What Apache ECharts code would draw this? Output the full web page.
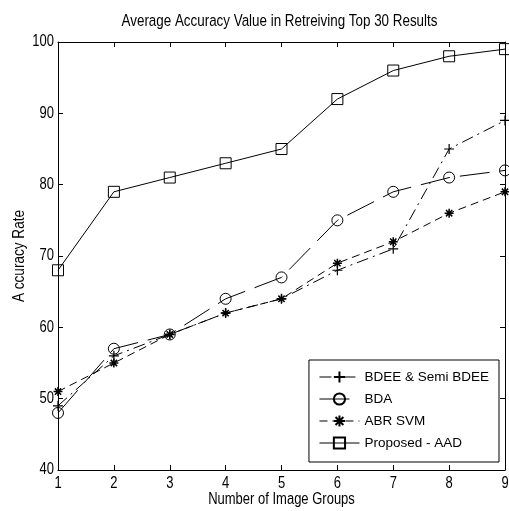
<!DOCTYPE html>
<html><head><meta charset="utf-8">
<script src="https://cdn.jsdelivr.net/npm/echarts@6/dist/echarts.min.js"></script>
<style>html,body{margin:0;padding:0;background:#fff}#c{width:509px;height:511px}</style>
</head><body><div id="c"></div>
<script>
const groups = [1,2,3,4,5,6,7,8,9];
const bdee = [49,56,59,62,64,68,71,85,89];
const bda = [48,57,59,64,67,75,79,81,82];
const abrSvm = [51,55,59,62,64,69,72,76,79];
const aad = [68,79,81,83,85,92,96,98,99];
const yTicks = [40,50,60,70,80,90,100];
const xTicks = [1,2,3,4,5,6,7,8,9];

const FONT = '"Liberation Sans",Arial,sans-serif';
const SY = 1.2;
const plus = 'path://M5,0L5,10M0,5L10,5';
const star = 'path://M5,0L5,10M0,5L10,5M1.5,1.5L8.5,8.5M8.5,1.5L1.5,8.5';
function pts(arr){ return groups.map((g,i)=>[g,arr[i]]); }
const chart = echarts.init(document.getElementById('c'));
const axisCommon = {
  axisLine:{show:true,onZero:false,lineStyle:{color:'#000',width:1}},
  axisTick:{show:true,inside:true,length:5,lineStyle:{color:'#000'}},
  axisLabel:{show:false},
  splitLine:{show:false}
};
chart.setOption({
  animation:false,
  backgroundColor:'#fff',
  grid:{left:58,right:4,top:42,bottom:41},
  legend:{
    orient:'vertical',right:10,top:360,itemWidth:40,itemHeight:14,itemGap:8,
    backgroundColor:'#fff',borderColor:'#000',borderWidth:1,padding:[10,10,12,10],
    textStyle:{fontFamily:FONT,fontSize:13.5,color:'#000'},
    lineStyle:{width:1},
    data:['BDEE & Semi BDEE','BDA','ABR SVM','Proposed - AAD']
  },
  xAxis:[
    Object.assign({type:'value',min:1,max:9,interval:1,position:'bottom'},axisCommon),
    Object.assign({type:'value',min:1,max:9,interval:1,position:'top'},axisCommon)
  ],
  yAxis:[
    Object.assign({type:'value',min:yTicks[0],max:yTicks[yTicks.length-1],interval:10,position:'left'},axisCommon),
    Object.assign({type:'value',min:40,max:100,interval:10,position:'right'},axisCommon)
  ],
  series:[
    {name:'BDEE & Semi BDEE',type:'line',data:pts(bdee),symbol:plus,symbolSize:10,
      lineStyle:{color:'#000',width:1,type:[12,5,2,5]},
      itemStyle:{color:'transparent',borderColor:'#000',borderWidth:1.2},z:3},
    {name:'BDA',type:'line',data:pts(bda),symbol:'circle',symbolSize:11,
      lineStyle:{color:'#000',width:1,type:[30,10]},
      itemStyle:{color:'transparent',borderColor:'#000',borderWidth:1},z:3},
    {name:'ABR SVM',type:'line',data:pts(abrSvm),symbol:star,symbolSize:9,
      lineStyle:{color:'#000',width:1,type:[8,5]},
      itemStyle:{color:'transparent',borderColor:'#000',borderWidth:1.5},z:3},
    {name:'Proposed - AAD',type:'line',data:pts(aad),symbol:'rect',symbolSize:11,
      lineStyle:{color:'#000',width:1,type:'solid'},
      itemStyle:{color:'transparent',borderColor:'#000',borderWidth:1},z:3}
  ]
});

function txt(text,x,y,opts){
  return Object.assign({type:'text',x:x,y:y,scaleY:SY,silent:true,
    style:{text:text,fontFamily:FONT,fontSize:13,fill:'#000',align:'center',verticalAlign:'middle'}},opts||{});
}
const g = [];
const x0 = chart.convertToPixel({xAxisIndex:0},1);
const x1 = chart.convertToPixel({xAxisIndex:0},9);
const cx = (x0+x1)/2;
const yb = chart.convertToPixel({yAxisIndex:0},40);
const yt = chart.convertToPixel({yAxisIndex:0},100);
xTicks.forEach(v=>{ g.push(txt(String(v),chart.convertToPixel({xAxisIndex:0},v),yb+14)); });
yTicks.forEach(v=>{
  const t = txt(String(v),x0-4,chart.convertToPixel({yAxisIndex:0},v));
  t.style.align='right'; g.push(t);
});
const title = txt('Average Accuracy Value in Retreiving Top 30 Results',cx-2,22);
title.style.fontSize=13.4; g.push(title);
g.push(txt('Number of Image Groups',cx,500));
const yn = txt('A ccuracy Rate',19,(yb+yt)/2,{rotation:Math.PI/2});
yn.style.fontSize=13.6; g.push(yn);
chart.setOption({graphic:g});
</script></body></html>
